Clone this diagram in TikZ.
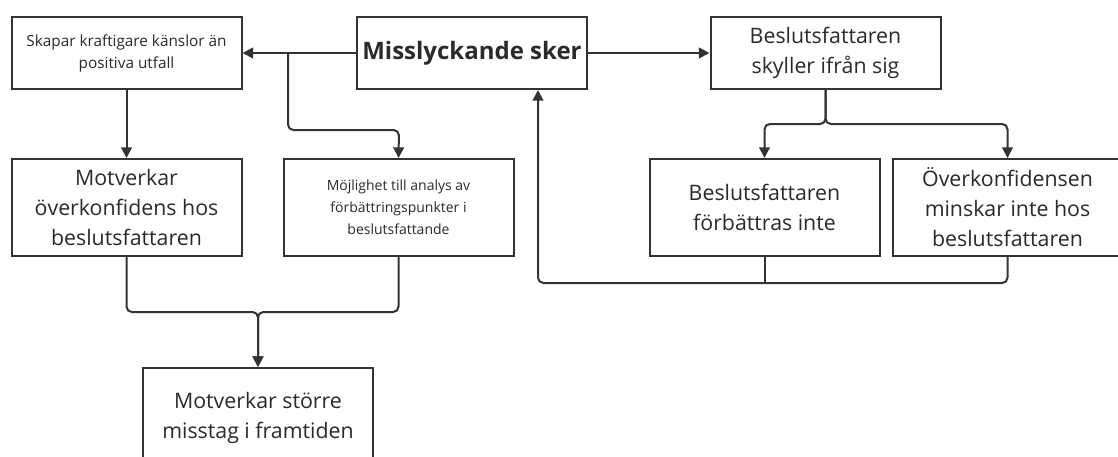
\documentclass[tikz,border=0pt]{standalone}
\usepackage{fontspec}
\setmainfont{Open Sans}
\usetikzlibrary{arrows.meta}
\definecolor{ln}{HTML}{333333}
\definecolor{tx}{HTML}{2A2A2A}
\tikzset{
  box/.style={draw=ln, line width=1.5pt, rectangle, inner sep=2pt, align=center, text=tx,
    minimum width=230*0.75pt},
  bigtxt/.style={font=\fontsize{16}{22.5}\selectfont},
  smalltxt/.style={font=\fontsize{10.5}{16.5}\selectfont},
  arr/.style={draw=ln, line width=1.5pt, -{Triangle[length=8pt,width=8pt]}, rounded corners=4pt},
  ln/.style={draw=ln, line width=1.5pt, rounded corners=4pt}
}
\begin{document}
\begin{tikzpicture}[x=0.75pt,y=-0.75pt]
\clip (0,0) rectangle (1118,457);
\fill[white] (0,0) rectangle (1118,457);
% nodes
\node[box,font=\fontsize{11.5}{16.5}\selectfont,minimum height=72*0.75pt] (skapar) at (126.5,53) {Skapar kraftigare känslor än\\positiva utfall};
\node[box,minimum height=72*0.75pt,font=\fontsize{18}{22}\selectfont\bfseries] (miss) at (472,53) {Misslyckande sker};
\node[box,bigtxt,minimum height=72*0.75pt] (skyl) at (825.5,53) {Beslutsfattaren\\skyller ifrån sig};
\node[box,bigtxt,minimum height=97*0.75pt] (motov) at (126.5,207.5) {Motverkar\\överkonfidens hos\\beslutsfattaren};
\node[box,smalltxt,minimum height=97*0.75pt] (moj) at (398.5,207.5) {Möjlighet till analys av\\förbättringspunkter i\\beslutsfattande};
\node[box,bigtxt,minimum height=97*0.75pt] (forb) at (764.5,207.5) {Beslutsfattaren\\förbättras inte};
\node[box,bigtxt,minimum height=97*0.75pt] (overk) at (1007.5,207.5) {Överkonfidensen\\minskar inte hos\\beslutsfattaren};
\node[box,bigtxt,minimum height=100*0.75pt] (larger) at (258,418) {Motverkar större\\misstag i framtiden};
% coordinates
\coordinate (j1) at (288,53);
\coordinate (c1) at (399,130);
\coordinate (s1) at (825.5,124);
\coordinate (f1) at (538,283);
\coordinate (m1) at (258,312);
% connectors
\draw[arr] (miss) -- (skapar);
\draw[arr] (j1) |- (c1) -- (moj.north);
\draw[arr] (skapar) -- (motov);
\draw[arr] (miss) -- (skyl);
\draw[arr] (skyl.south) -- (s1) -| (forb.north);
\draw[arr] (skyl.south) -- (s1) -| (overk.north);
\draw[arr] (overk.south) |- (f1) -- (f1 |- miss.south);
\draw[ln] (forb.south) -- (forb.south |- f1);
\draw[arr] (motov.south) |- (m1) -- (larger.north);
\draw[arr] (moj.south) |- (m1) -- (larger.north);
\end{tikzpicture}
\end{document}
